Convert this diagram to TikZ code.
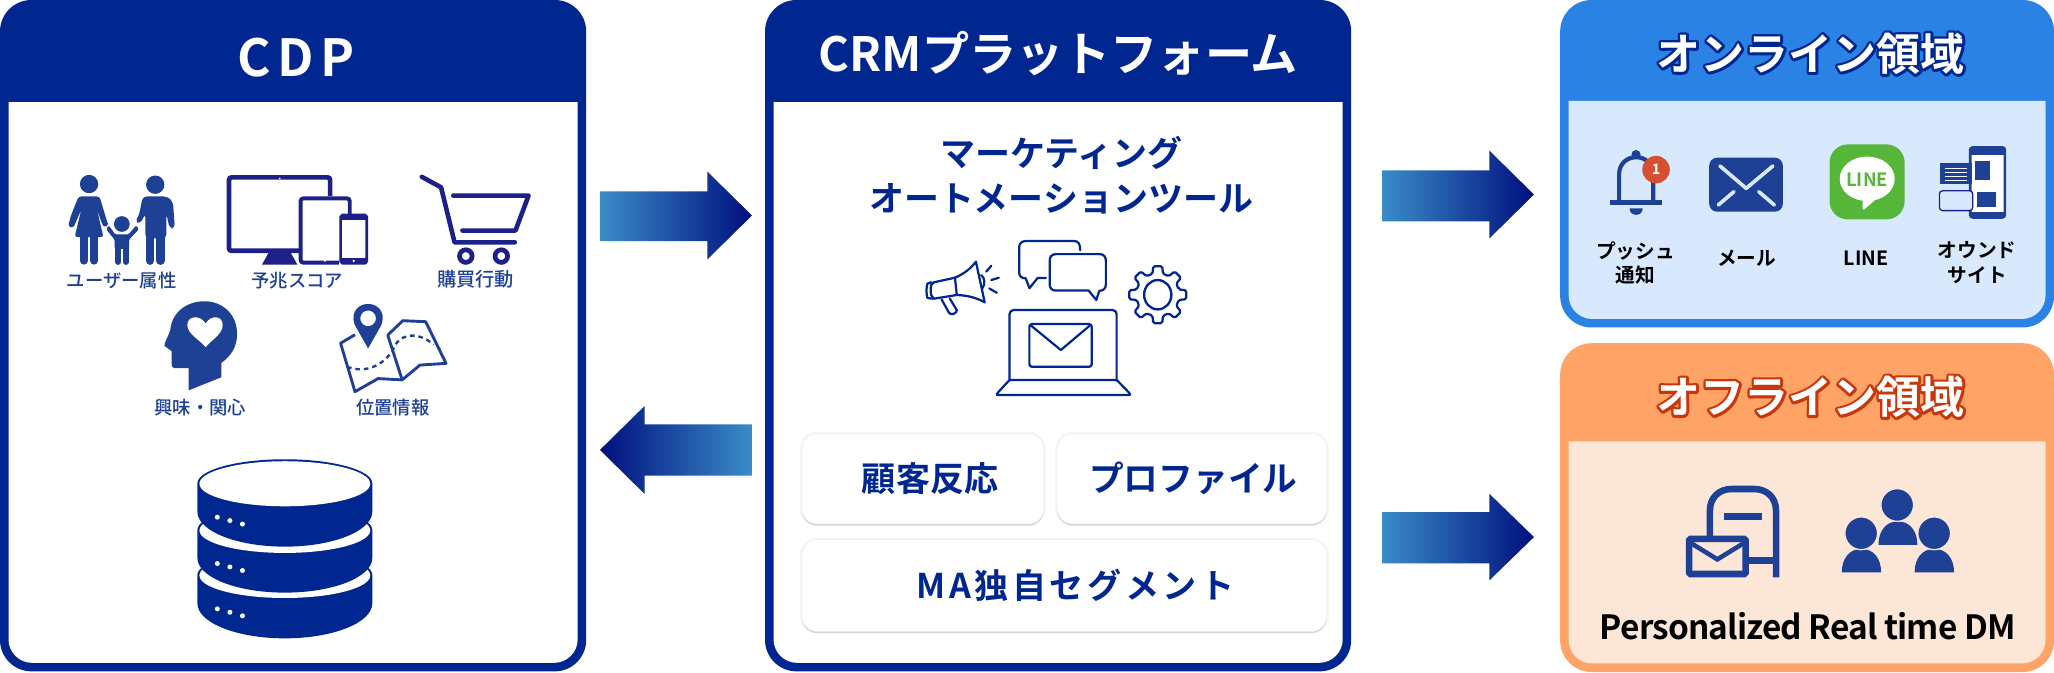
\documentclass[tikz,border=0pt]{standalone}
\usepackage{fontspec}
\usetikzlibrary{shadows,shapes.geometric}
\setmainfont{Noto Sans CJK JP}[BoldFont={Noto Sans CJK JP Bold}]
\newfontfamily\spacedfont[LetterSpace=12]{Noto Sans CJK JP Bold}
\newfontfamily\widefont[LetterSpace=10.5]{Noto Sans CJK JP Bold}
\newfontfamily\tightfont[LetterSpace=-2.7]{Noto Sans CJK JP Bold}
\newfontfamily\mediumfont{Noto Sans CJK JP Medium}
\newcommand\fsz[1]{\fontsize{#1}{#1}\selectfont}
\definecolor{navy}{HTML}{00268F}
\definecolor{iconblue}{HTML}{1E4095}
\definecolor{indigo}{HTML}{1D2088}
\definecolor{skyhead}{HTML}{2A82E4}
\definecolor{skybody}{HTML}{D8E9FE}
\definecolor{orghead}{HTML}{FFA366}
\definecolor{orgbody}{HTML}{FCE6D8}
\definecolor{orgline}{HTML}{C8360C}
\definecolor{gradlight}{HTML}{3A8CC8}
\definecolor{graddark}{HTML}{000F7E}
\definecolor{linegreen}{HTML}{56B639}
\definecolor{badge}{HTML}{D64F30}
% #1 x0, #2 x1, #3 ytop, #4 yhead, #5 ybot, #6 head colour, #7 body colour
\newcommand\panelbox[7]{%
  \fill[#6,rounded corners=24] (#1,#3) rectangle (#2,#5);
  \pgfmathsetmacro\pa{#1+6.5}\pgfmathsetmacro\pb{#2-6.5}\pgfmathsetmacro\pc{#5-6.5}
  \fill[#7] (\pa,#4) [rounded corners=18] -- (\pa,\pc) -- (\pb,\pc) [sharp corners] -- (\pb,#4) -- cycle;
}
% right-pointing: x0 xbase x1 ytop yshafttop yshaftbot ybot
\newcommand\rarrowshape[7]{%
  \shade[left color=gradlight,right color=graddark]
    (#1,#5) -- (#2,#5) -- (#2,#4) -- (#3,{(#4+#7)/2}) -- (#2,#7) -- (#2,#6) -- (#1,#6) -- cycle;
}
\newcommand\diskicon[3]{%
  \pgfmathsetmacro\dk{0.5523*(#3-#2)}
  \pgfmathsetmacro\dt{0.5523*18.4}
  \fill[navy] (150.7,#1) -- (150.7,#2)
     .. controls (150.7,#2+\dk) and (180.6,#3) .. (217.45,#3)
     .. controls (254.3,#3) and (284.2,#2+\dk) .. (284.2,#2)
     -- (284.2,#1)
     .. controls (284.2,#1-\dt) and (254.3,#1-18.4) .. (217.45,#1-18.4)
     .. controls (180.6,#1-18.4) and (150.7,#1-\dt) .. (150.7,#1) -- cycle;
  \fill[white] (217.45,#1+.3) ellipse[x radius=65.2,y radius=17.2];
  \foreach \dx/\dy in {165.9/0,175.5/2.6,185.1/5.3}{\fill[white] (\dx,#2+4.2+\dy) circle[radius=1.9];}
}
\tikzset{
  hdr/.style={font=\bfseries\fsz{36},text=white,inner sep=0},
  small/.style={font=\mediumfont\fsz{14},text=iconblue,inner sep=0},
  blk/.style={font=\bfseries\fsz{15},text=black,inner sep=0},
  card/.style={rounded corners=12,preaction={draw=black!3,line width=3},
     drop shadow={opacity=.3,shadow xshift=0pt,shadow yshift=-1.3pt},
     draw=black!7,line width=.5,fill=white},
  cardtxt/.style={font=\bfseries\fsz{26},text=navy,inner sep=0},
  thin/.style={draw=navy,line width=1.7,line join=round,line cap=round}
}
\newcommand\outlined[2]{{\fsz{33.6}\bfseries\rlap{\color{#1}\special{pdf:code 2 Tr 4 w 1 j 1 J}#2\special{pdf:code 0 Tr 1 w 0 j 0 J}}\textcolor{white}{#2}}}
\begin{document}
\begin{tikzpicture}[x=1pt,y=-1pt]
\useasboundingbox (0,0) rectangle (1568,513);
\fill[white] (0,0) rectangle (1568,513);
%% panels
\panelbox{0}{447.5}{0}{78}{512.5}{navy}{white}
\panelbox{584}{1031.5}{0}{78}{512.5}{navy}{white}
\panelbox{1191}{1568}{0}{77}{250}{skyhead}{skybody}
\panelbox{1191}{1568}{262}{337}{513}{orghead}{orgbody}
%% titles
\node[hdr,font=\spacedfont\fsz{39}] (cdptitle) at (226,44) {CDP};
\node[hdr] (crmtitle) at (808,41) {CRMプラットフォーム};
\node[inner sep=0] (ontitle) at (1382,41) {\outlined{navy}{オンライン領域}};
\node[inner sep=0] (offtitle) at (1382,303) {\outlined{orgline}{オフライン領域}};
%% arrows
\rarrowshape{458}{540}{574}{131}{146}{184}{198}
\shade[left color=graddark,right color=gradlight]
  (574,324) -- (492,324) -- (492,310) -- (458,343.5) -- (492,377) -- (492,363) -- (574,363) -- cycle;
\rarrowshape{1055}{1137}{1171}{115}{130}{169}{182}
\rarrowshape{1055}{1137}{1171}{377}{391}{430}{443}
%% family
\begin{scope}
\fill[iconblue] (68,140.5) circle[radius=7];
\fill[iconblue] (118.5,141) circle[radius=7];
\fill[iconblue] (93,171) circle[radius=6];
% woman
\fill[iconblue,rounded corners=2] (60,150) -- (76,150) -- (82,170) -- (83,172) -- (79.5,173.5) -- (78,171) -- (74,160) -- (79,181) -- (57,181) -- (62,160) -- (56,174) -- (52,173) -- (54,165) -- cycle;
\draw[iconblue,line width=6,line cap=round] (64,180) -- (64,199) (72,180) -- (72,199);
% man
\fill[iconblue,rounded corners=3] (106,165) -- (109,150) -- (128,150) -- (132,154) -- (133.5,174) -- (129.5,174.5) -- (127,163) -- (127,182) -- (111,182) -- (111,163) -- (107,171) -- (103,169) -- cycle;
\draw[iconblue,line width=6.5,line cap=round] (114.5,178) -- (114.5,199) (122.5,178) -- (122.5,199);
% child
\fill[iconblue,rounded corners=1] (88,179) -- (98,179) -- (104,172) -- (106,175) -- (98.5,183) -- (98.5,190) -- (87.5,190) -- (87.5,183) -- (81,175) -- (83,172) -- cycle;
\draw[iconblue,line width=4.5,line cap=round] (90.3,188) -- (90.3,200) (96,188) -- (96,200);
\end{scope}
\node[small] (lusr) at (93,214.5) {ユーザー属性};
%% devices
\draw[indigo,line width=3.6,rounded corners=2] (174.8,135.4) rectangle (252,191.5);
\fill[indigo] (205,193) -- (222,193) -- (227,202) -- (200,202) -- cycle;
\fill[white] (228,150) rectangle (268,202);
\draw[indigo,line width=3,fill=white,rounded corners=2] (229.5,151.5) rectangle (267,200.5);
\fill[white] (259,163) rectangle (280.5,202);
\draw[indigo,line width=2,fill=white,rounded corners=1.5] (260,164) rectangle (280,201);
\fill[indigo] (260,164) rectangle (280,168);
\fill[indigo] (260,197) rectangle (280,201.5);
\fill[white] (213.6,136.3) circle[radius=.7] (248,199) circle[radius=1] (270,199.2) circle[radius=1];
\node[small] (lpre) at (227,214.5) {予兆スコア};
%% cart
\draw[indigo,line width=3.5,line cap=round,line join=round] (322,135) -- (336.7,143) -- (347,185) -- (393,185);
\draw[indigo,line width=3.5,line cap=round,line join=round] (346,149.3) -- (403.5,149.3) -- (393.5,176) -- (353,176);
\draw[indigo,line width=3.6] (355.6,195.5) circle[radius=4.8] (382.7,195.5) circle[radius=4.8];
\node[small,font=\mediumfont\fsz{14.7}] (lbuy) at (363,213.5) {購買行動};
%% head
\fill[iconblue] (144,298) -- (144,281) -- (133,281) .. controls (131,281) and (131,279) .. (131,277) -- (131,268)
   -- (125.5,264) .. controls (125,262) and (129,256) .. (130,252)
   .. controls (131,239) and (142,230) .. (156,230) .. controls (171,230) and (181,241) .. (181,255)
   .. controls (181,265) and (176,272) .. (169,277) -- (169,288) -- cycle;
\fill[white] (157,265) .. controls (152,259) and (143,255) .. (143,248) .. controls (143,241) and (153,240) .. (157,247)
   .. controls (161,240) and (170,241) .. (170,248) .. controls (170,255) and (162,259) .. (157,265) -- cycle;
\node[small] (lint) at (153,311) {興味・関心};
%% map
\draw[iconblue,line width=2.2,line join=round] (296,255.8) -- (307.5,244.8) -- (325,245.6) -- (340.5,277.4) -- (320.6,278.7) -- (307,290) -- (288.6,289) -- (271,299) -- (260,262) -- (271,255.5);
\draw[iconblue,line width=2.2] (296,255.8) -- (307,290);
\draw[iconblue,line width=1.8,dash pattern=on 3.5 off 3] (265,280) .. controls (278,285) and (292,280) .. (300,267) .. controls (304,255) and (318,252) .. (331,263);
\fill[white] (281,260) -- (268,246) -- (294,246) -- cycle;
\fill[iconblue,even odd rule] (281,266) -- (272.5,251) .. controls (266,241) and (272,232) .. (281,232) .. controls (290,232) and (296,241) .. (289.5,251) -- cycle
   (281,243) circle[radius=6];
\node[small] (lloc) at (300,311) {位置情報};
%% database
\diskicon{439}{460.6}{487.3}
\diskicon{404.6}{426}{452.4}
\diskicon{369}{390.6}{417.3}
%% MA title
\node[align=center,font=\bfseries\fsz{26.7},text=navy,inner sep=0] (matitle) at (810,134) {マーケティング\\[7.5pt]オートメーションツール};
%% megaphone
\draw[thin] (729,212) .. controls (736,209) and (741,205) .. (745,199.8) -- (751.7,230.8) .. controls (745,227) and (738,225.5) .. (730.4,225.2) -- cycle;
\draw[thin] (729,212) -- (713,215.5) .. controls (711,216) and (710.5,218) .. (710.5,221) .. controls (710.5,225) and (711,227) .. (713,228) -- (730.4,225.2);
\draw[thin] (711,215.5) -- (708,216.5) .. controls (707,220) and (707,224) .. (708,227.5) -- (712,228);
\draw[thin] (718.8,228.6) -- (724.6,239) .. controls (726,241) and (731,239) .. (730.4,236.7) -- (725,227.8);
\draw[thin] (749,210) .. controls (752,212) and (752,217) .. (750,220);
\draw[thin] (752.9,207.4) -- (756.7,202.9) (756.7,213.8) -- (762.5,212) (755.2,220.2) -- (761,223.5);
%% bubbles
\draw[thin] (824.6,191) .. controls (824.6,186) and (823,184) .. (820,184) -- (783,184) .. controls (780,184) and (778,186) .. (778,189) -- (778,208)
  .. controls (778,211) and (780,212.5) .. (783,212.5) -- (785.9,220) -- (792,212.3) -- (798.4,212.3);
\draw[thin,fill=white] (806,194) -- (839.5,194) .. controls (842.5,194) and (844.2,196) .. (844.2,199) -- (844.2,217)
  .. controls (844.2,220) and (842.5,222) .. (839.2,222) -- (836.9,229) -- (831,221.8) -- (806,221.8)
  .. controls (803,221.8) and (801.3,220) .. (801.3,217) -- (801.3,199) .. controls (801.3,196) and (803,194) .. (806,194) -- cycle;
%% gear
\begin{scope}[shift={(883.8,225)}]
\draw[thin,rounded corners=1.2] (-14:16.5) \foreach \a in {0,45,...,315}{
   -- ({\a-14}:16.5) -- ({\a-9}:22) -- ({\a+9}:22) -- ({\a+14}:16.5) } -- cycle;
\draw[thin,line width=1.8] (0,0) ellipse[x radius=10.4,y radius=11.2];
\end{scope}
%% laptop
\draw[thin,rounded corners=3] (770.7,290) -- (770.7,236.7) -- (852.4,236.7) -- (852.4,290);
\draw[thin,rounded corners=1] (770.7,290) -- (852.4,290) -- (862.6,300.5) -- (862.6,301.6) -- (761,301.6) -- (761,300.5) -- cycle;
\draw[thin,rounded corners=2] (785.8,247.4) rectangle (833.4,280);
\draw[thin] (787,248.5) -- (809.8,267.2) -- (832,248.5);
%% cards
\node[card,minimum width=185,minimum height=69,inner sep=0] (c1) at (704.5,365.5) {};
\node[card,minimum width=206,minimum height=69,inner sep=0] (c2) at (910,365.5) {};
\node[card,minimum width=401,minimum height=70,inner sep=0] (c3) at (812.5,447) {};
\node[cardtxt] (c1t) at (710,365) {顧客反応};
\node[cardtxt,font=\bfseries\fsz{26.5}] (c2t) at (911,365) {プロファイル};
\node[cardtxt,font=\widefont\fsz{26}] (c3t) at (821,447) {MA独自セグメント};
%% bell
\draw[iconblue,line width=3.2] (1236,154) -- (1236,133) .. controls (1236,125) and (1242,120) .. (1249,120) .. controls (1256,120) and (1262,125) .. (1262,133) -- (1262,154);
\fill[iconblue] (1248.9,118) circle[radius=3.5];
\fill[iconblue] (1228.8,152.8) rectangle (1268.8,156.2);
\fill[iconblue] (1244,159) -- (1254,159) .. controls (1254,162) and (1252,164) .. (1249,164) .. controls (1246,164) and (1244,162) .. (1244,159) -- cycle;
\node[circle,fill=badge,minimum size=21,inner sep=0,text=white,font=\bfseries\fsz{11}] (bdg) at (1264.2,129.5) {1};
%% mail
\fill[iconblue,rounded corners=6] (1304.8,120.4) rectangle (1361,161.6);
\draw[skybody,line width=2.8,line cap=round,line join=round] (1313,126.7) -- (1333,143.8) -- (1353.4,126.7) (1311.7,156.5) -- (1323.7,146.3) (1342.6,146.3) -- (1354.5,156.5);
%% LINE
\fill[linegreen,rounded corners=14] (1396.6,110.2) rectangle (1454,167.5);
\fill[white] (1425.4,136.5) ellipse[x radius=21,y radius=17];
\fill[white] (1418,150) -- (1430,150) -- (1431,153) -- (1423,160) .. controls (1421,161) and (1422,155) .. (1422,153) -- cycle;
\node[inner sep=0,text=linegreen,font=\bfseries\fsz{14}] (lineinner) at (1425.4,137) {LINE};
%% web
\draw[iconblue,line width=2,fill=white,rounded corners=2] (1504,112.5) rectangle (1530.5,166);
\fill[iconblue] (1504,112.5) rectangle (1530.5,118);
\fill[iconblue] (1504,162) rectangle (1530.5,166);
\fill[iconblue] (1507.6,123) rectangle (1519,137.4);
\fill[iconblue] (1509.4,146.8) rectangle (1524,157.8);
\fill[iconblue] (1481.3,124.7) rectangle (1505,140.7);
\draw[white,line width=.8] (1485,128.5) -- (1501.6,128.5) (1485,131.5) -- (1501.6,131.5) (1485,134.5) -- (1501.6,134.5) (1485,137.5) -- (1501.6,137.5);
\draw[indigo,line width=1,fill=skybody,rounded corners=2.5] (1480.5,145.6) rectangle (1506,160.8);
%% online labels
\node[blk,align=center] (l1) at (1248.4,200.5) {プッシュ\\[3.5pt]通知};
\node[blk] (l2) at (1333.3,197.2) {メール};
\node[blk] (l3) at (1424.7,197.2) {LINE};
\node[blk,align=center] (l4) at (1509.4,200.5) {オウンド\\[3.5pt]サイト};
%% mailbox
\draw[iconblue,line width=5] (1305.3,410) -- (1305.3,390) .. controls (1305.3,380) and (1312,373.3) .. (1322,373.3) -- (1339,373.3) .. controls (1349,373.3) and (1355.8,380) .. (1355.8,390) -- (1355.8,440.7);
\fill[iconblue] (1316,391.8) rectangle (1345,397.2);
\draw[iconblue,line width=5] (1334,428) -- (1355.8,428);
\draw[iconblue,line width=5,fill=orgbody,rounded corners=1] (1289.5,411.4) rectangle (1332.5,438.2);
\draw[iconblue,line width=3.5] (1291,414.7) -- (1311,427) -- (1331,414.7);
%% people
\fill[iconblue] (1434,416) .. controls (1434,405) and (1440,398) .. (1448.8,398) .. controls (1457.6,398) and (1463.7,405) .. (1463.7,416) -- cycle;
\fill[iconblue] (1406,437) .. controls (1406,426) and (1412,419) .. (1421,419) .. controls (1430,419) and (1436,426) .. (1436,437) -- cycle;
\fill[iconblue] (1461.6,437) .. controls (1461.6,426) and (1467.6,419) .. (1476.6,419) .. controls (1485.6,419) and (1491.7,426) .. (1491.7,437) -- cycle;
\draw[iconblue,fill=iconblue,draw=orgbody,line width=1] (1448.3,385.5) circle[radius=12.5] (1420.8,407.1) circle[radius=12.5] (1476.5,407.1) circle[radius=12.5];
\node[inner sep=0,text=black,font=\tightfont\fsz{25.5}] (pdm) at (1380,478) {Personalized Real time DM};
\end{tikzpicture}
\end{document}
